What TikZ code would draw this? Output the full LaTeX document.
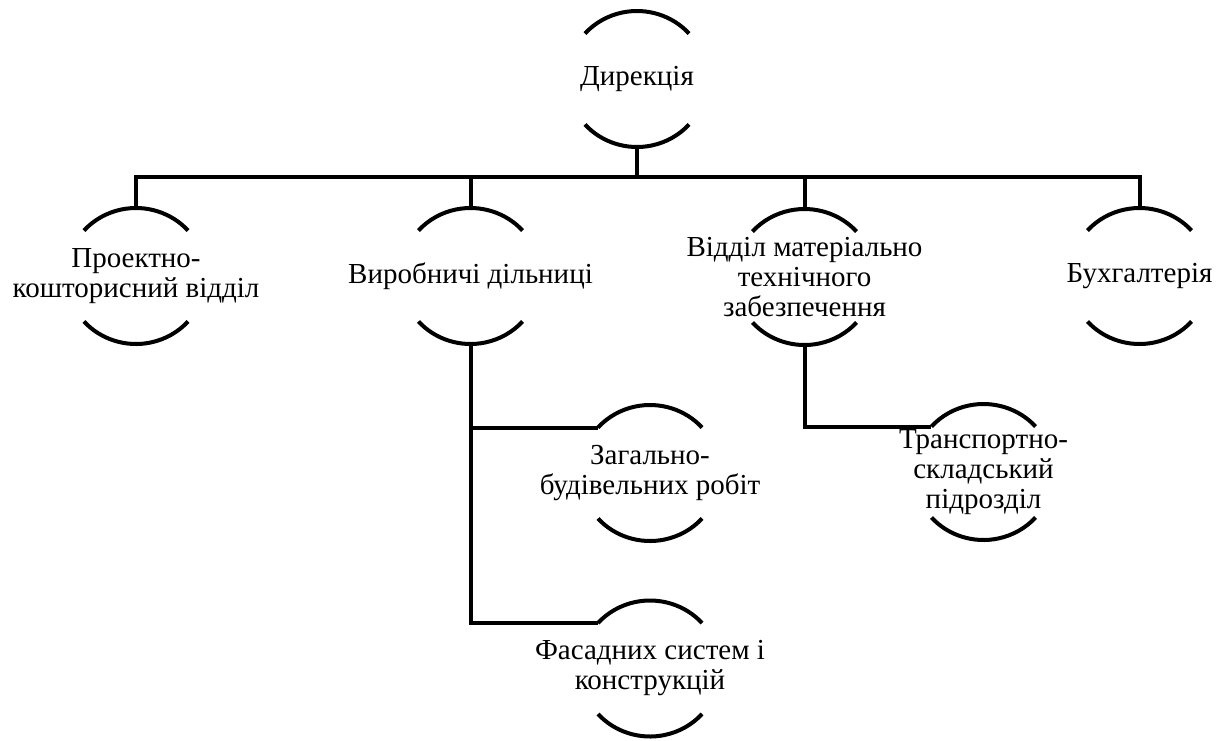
\documentclass[tikz,border=0pt]{standalone}
\usepackage{fontspec}
\setmainfont{Liberation Serif}
\usetikzlibrary{calc}
\tikzset{
  unit/.style={align=center,inner sep=0pt,font={\rmfamily\fontsize{29pt}{30pt}\selectfont}},
  arcline/.style={line width=4pt,black},
  conn/.style={line width=4pt,black}}
\begin{document}
\begin{tikzpicture}[x=1pt,y=1pt]
\useasboundingbox (0,0) rectangle (1223,-740);
% nodes (text)
\node[unit] (dir)   at (637,-79)    {Дирекція};
\node[unit] (pkv)   at (136,-276)   {Проектно-\\кошторисний відділ};
\node[unit] (vd)    at (470.5,-276) {Виробничі дільниці};
\node[unit] (mtz)   at (804.5,-277) {Відділ матеріально\\технічного\\забезпечення};
\node[unit] (bukh)  at (1139.5,-276){Бухгалтерія};
\node[unit] (zag)   at (650,-473)   {Загально-\\будівельних робіт};
\node[unit] (fas)   at (650,-668.5) {Фасадних систем і\\конструкцій};
\node[unit] (trans) at (983.5,-472) {Транспортно-\\складський\\підрозділ};
% arcs and anchor points
\foreach \n in {dir,pkv,vd,mtz,bukh,zag,fas,trans}{
  \draw[arcline] ($(\n.center)+(42:70 and 68)$) arc[start angle=42,end angle=138,x radius=70pt,y radius=68pt];
  \draw[arcline] ($(\n.center)+(222:70 and 68)$) arc[start angle=222,end angle=318,x radius=70pt,y radius=68pt];
  \coordinate (\n-t) at ($(\n.center)+(0,68)$);
  \coordinate (\n-b) at ($(\n.center)+(0,-68)$);
  \coordinate (\n-l) at ($(\n.center)+(138:70 and 68)$);
}
\coordinate (bus) at (0,-177);
% connectors
\draw[conn] (dir-b) -- (dir-b |- bus);
\draw[conn] (pkv-t) -- (pkv-t |- bus) -- (bukh-t |- bus) -- (bukh-t);
\draw[conn] (vd-t) -- (vd-t |- bus);
\draw[conn] (mtz-t) -- (mtz-t |- bus);
\draw[conn] (vd-b) |- (zag-l);
\draw[conn] (vd-b) |- (fas-l);
\draw[conn] (mtz-b) |- (trans-l);
\end{tikzpicture}
\end{document}
